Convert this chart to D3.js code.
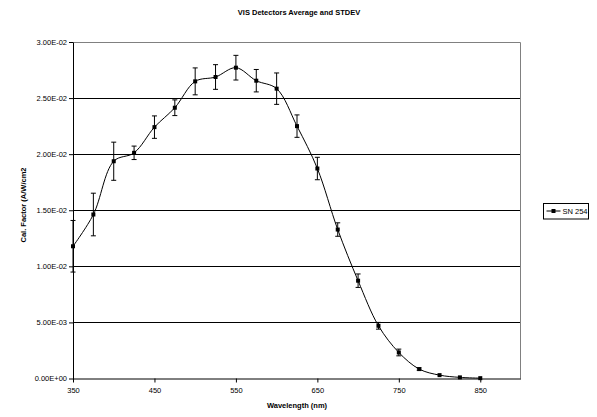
<!DOCTYPE html>
<html>
<head>
<meta charset="utf-8">
<script src="https://cdn.jsdelivr.net/npm/d3@7"></script>
<style>
  body { margin: 0; background: #fff; }
  text { font-family: "Liberation Sans", Arial, sans-serif; fill: #000; }
</style>
</head>
<body>
<div id="chart"></div>
<script>
const wavelengths = [350, 375, 400, 425, 450, 475, 500, 525, 550, 575, 600, 625, 650, 675, 700, 725, 750, 775, 800, 825, 850]
const calFactor = [0.01179, 0.01462, 0.01937, 0.02012, 0.02241, 0.02414, 0.02649, 0.02688, 0.02771, 0.02655, 0.02584,
  0.0225, 0.01872, 0.01328, 0.00872, 0.0047, 0.00232, 0.00084, 0.0003, 0.0001, 0.00003]
const stdev = [0.0023, 0.0019, 0.0017, 0.0006, 0.001, 0.0007, 0.0012, 0.0011, 0.0011, 0.001, 0.0014,
  0.001, 0.001, 0.0006, 0.0006, 0.0003, 0.0003, 0.0001, 0, 0, 0]
const xTicks = [350, 450, 550, 650, 750, 850]
const yTicks = [0, 0.005, 0.01, 0.015, 0.02, 0.025, 0.03]
const seriesName = 'SN 254'

const width = 597, height = 417
const margin = { top: 42, right: 76, bottom: 38.5, left: 73 }
const innerW = width - margin.left - margin.right
const innerH = height - margin.top - margin.bottom

const data = wavelengths.map((w, i) => ({ w, v: calFactor[i], e: stdev[i] }))

const svg = d3.select('#chart')
  .append('svg')
  .attr('width', width)
  .attr('height', height)

// title
svg.append('text')
  .attr('x', 299)
  .attr('y', 15)
  .attr('text-anchor', 'middle')
  .style('font-size', '7.5px')
  .style('font-weight', 'bold')
  .text('VIS Detectors Average and STDEV')

const g = svg.append('g')
  .attr('transform', `translate(${margin.left}, ${margin.top})`)

const x = d3.scaleLinear().domain([350, 900]).range([0, innerW])
const y = d3.scaleLinear().domain([0, 0.03]).range([innerH, 0])

// horizontal grid lines
g.selectAll('.grid')
  .data(yTicks.slice(1, -1))
  .enter()
  .append('line')
  .attr('x1', 0)
  .attr('x2', innerW)
  .attr('y1', d => Math.round(y(d)) + 0.5)
  .attr('y2', d => Math.round(y(d)) + 0.5)
  .attr('stroke', '#000')

// plot border (top / right)
g.append('path')
  .attr('d', `M0,0.5H${innerW - 0.5}V${innerH}`)
  .attr('fill', 'none')
  .attr('stroke', '#808080')

// axes
const yAxis = g.append('g')
  .call(d3.axisLeft(y).tickValues(yTicks).tickSize(4).tickSizeOuter(0)
    .tickFormat(d => d3.format('.2e')(d).replace('e-', 'E-0').replace('e+', 'E+0').toUpperCase()))
yAxis.select('.domain').attr('stroke', '#000')
yAxis.selectAll('text').style('font-size', '7.5px').attr('x', -6)

const xAxis = g.append('g')
  .attr('transform', `translate(0, ${innerH})`)
  .call(d3.axisBottom(x).tickValues(xTicks).tickSize(4).tickSizeOuter(0).tickFormat(d3.format('d')))
xAxis.select('.domain').attr('stroke', '#000').attr('d', `M0.5,0.5H${innerW}`)
xAxis.selectAll('text').style('font-size', '7.5px').attr('y', 9)

// axis labels
svg.append('text')
  .attr('x', margin.left + innerW / 2)
  .attr('y', 408)
  .attr('text-anchor', 'middle')
  .style('font-size', '7.5px')
  .style('font-weight', 'bold')
  .text('Wavelength (nm)')

svg.append('text')
  .attr('transform', 'translate(26, 205) rotate(-90)')
  .attr('text-anchor', 'middle')
  .style('font-size', '7.5px')
  .style('font-weight', 'bold')
  .text('Cal. Factor (A/W/cm2')

// error bars
const eb = g.selectAll('.err')
  .data(data.filter(d => d.e > 0))
  .enter()
  .append('g')
  .attr('stroke', '#000')
  .attr('stroke-width', 1)
eb.append('line')
  .attr('x1', d => x(d.w)).attr('x2', d => x(d.w))
  .attr('y1', d => y(d.v + d.e)).attr('y2', d => y(d.v - d.e))
eb.append('line')
  .attr('x1', d => x(d.w) - 2.5).attr('x2', d => x(d.w) + 2.5)
  .attr('y1', d => y(d.v + d.e)).attr('y2', d => y(d.v + d.e))
eb.append('line')
  .attr('x1', d => x(d.w) - 2.5).attr('x2', d => x(d.w) + 2.5)
  .attr('y1', d => y(d.v - d.e)).attr('y2', d => y(d.v - d.e))

// smoothed line
const line = d3.line()
  .x(d => x(d.w))
  .y(d => y(d.v))
  .curve(d3.curveCatmullRom.alpha(0.5))

g.append('path')
  .datum(data)
  .attr('d', line)
  .attr('fill', 'none')
  .attr('stroke', '#000')
  .attr('stroke-width', 1)

// markers
g.selectAll('.pt')
  .data(data)
  .enter()
  .append('rect')
  .attr('x', d => x(d.w) - 2)
  .attr('y', d => y(d.v) - 2)
  .attr('width', 4)
  .attr('height', 4)
  .attr('fill', '#000')

// legend
const lg = svg.append('g').attr('transform', 'translate(543.5, 203.5)')
lg.append('rect')
  .attr('width', 45)
  .attr('height', 15.5)
  .attr('fill', '#fff')
  .attr('stroke', '#000')
lg.append('line')
  .attr('x1', 3).attr('x2', 17).attr('y1', 7.5).attr('y2', 7.5)
  .attr('stroke', '#000')
lg.append('rect')
  .attr('x', 8).attr('y', 5.5).attr('width', 4).attr('height', 4)
  .attr('fill', '#000')
lg.append('text')
  .attr('x', 19)
  .attr('y', 10.5)
  .style('font-size', '7.5px')
  .text(seriesName)
</script>
</body>
</html>
